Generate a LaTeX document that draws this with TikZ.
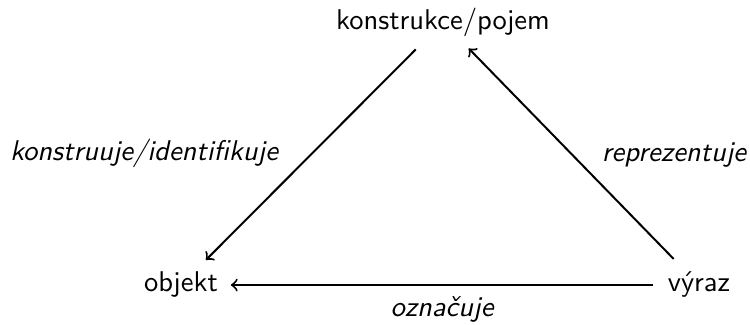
\documentclass[tikz,border=0pt]{standalone}
\usepackage{fontspec}
\usepackage{tikz}

\begin{document}
\begin{tikzpicture}[x=0.35pt,y=-0.35pt]
\tikzstyle{every node}+=[font=\sffamily]
\tikzstyle{lbl}=[font=\sffamily\itshape]
\tikzstyle{arr}=[->, black, line width=0.7pt, shorten >=1pt, shorten <=1.5pt]
\useasboundingbox (0,0) rectangle (750,324);
\node (pojem) at (443,22) {konstrukce/pojem};
\node (objekt) at (181,285) {objekt};
\node (vyraz) at (699,285) {výraz};
\draw [arr] (pojem) -- (objekt);
\draw [arr] (vyraz) -- (pojem);
\draw [arr] (vyraz) -- (objekt);
\node [lbl] (konstruuje) at (144,153) {konstruuje/identifikuje};
\node [lbl] (reprezentuje) at (674,155) {reprezentuje};
\node [lbl] (oznacuje) at (442,309) {označuje};
\end{tikzpicture}
\end{document}
